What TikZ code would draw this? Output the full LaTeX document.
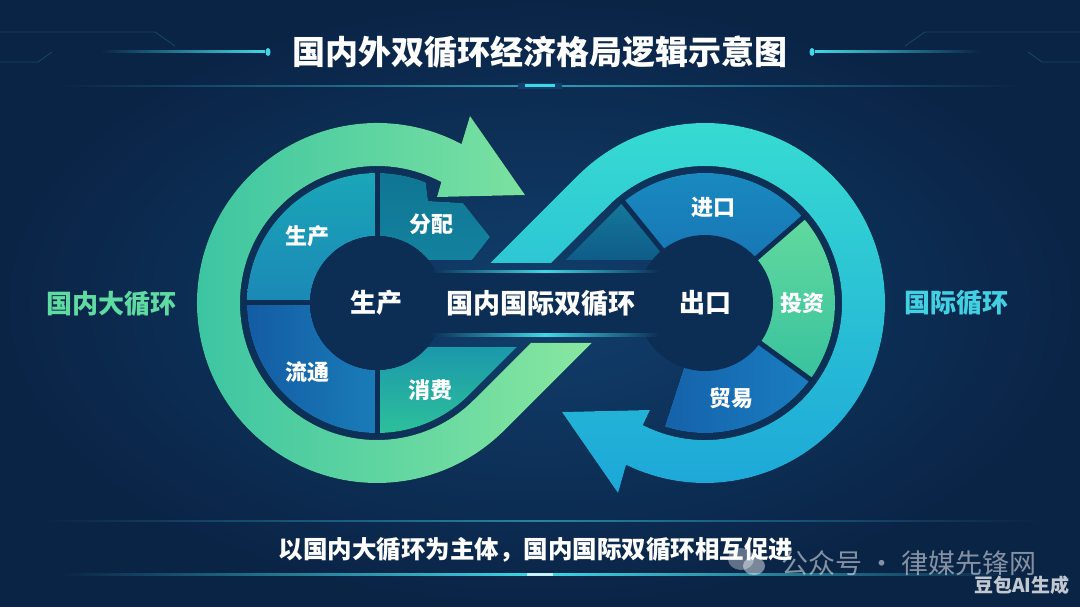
\documentclass[tikz,border=0pt]{standalone}
\usepackage{fontspec}
\setmainfont{Noto Sans CJK SC}
\usetikzlibrary{calc,positioning}
\definecolor{bgin}{HTML}{113F6D}
\definecolor{bgout}{HTML}{0A2446}
\definecolor{core}{HTML}{0C2D54}
\definecolor{glow}{HTML}{40D8E6}
\definecolor{gL}{HTML}{38C3A2}
\definecolor{gR}{HTML}{88E7A0}
\definecolor{cT}{HTML}{38DDD2}
\definecolor{cB}{HTML}{1CA6D8}
\definecolor{domestic}{HTML}{5FDBA2}
\definecolor{intl}{HTML}{42D0E3}
\definecolor{prodT}{HTML}{1AA6B8}
\definecolor{prodB}{HTML}{1B88B6}
\definecolor{circL}{HTML}{135CA4}
\definecolor{circR}{HTML}{1A7CB8}
\definecolor{consT}{HTML}{1B98AB}
\definecolor{consB}{HTML}{2DC09B}
\definecolor{distT}{HTML}{0F7694}
\definecolor{distB}{HTML}{13829E}
\definecolor{impT}{HTML}{1A8DC2}
\definecolor{impB}{HTML}{1776B4}
\definecolor{invT}{HTML}{62D99E}
\definecolor{invB}{HTML}{38C29E}
\definecolor{tradeL}{HTML}{1562AA}
\definecolor{tradeR}{HTML}{1A7DC0}
\definecolor{blankT}{HTML}{15789A}
\definecolor{blankB}{HTML}{0F5C88}

\begin{document}
\begin{tikzpicture}[x=1pt,y=1pt,
		gap/.style={core,line width=5pt},
		lab/.style={text=white,font=\bfseries\fontsize{22}{22}\selectfont},
		mid/.style={text=white,font=\bfseries\fontsize{26}{26}\selectfont},
		side/.style={font=\bfseries\fontsize{26}{26}\selectfont}]
		\useasboundingbox (0,0) rectangle (1080,606);
		\shade[inner color=bgin,outer color=bgout] (0,0) rectangle (1080,606);

		% title strip
		\shade[left color=bgout,right color=glow] (100,553) rectangle (265,555);
		\shade[left color=glow,right color=bgout] (815,553) rectangle (980,555);
		\fill[glow] (268,554) ellipse (2.5 and 4);
		\fill[glow] (812,554) ellipse (2.5 and 4);
		\draw[glow,opacity=.2,line width=.8pt] (0,544) -- (38,544) -- (52,554);
		\draw[glow,opacity=.2,line width=.8pt] (0,574) -- (155,574) -- (175,560);
		\draw[glow,opacity=.2,line width=.8pt] (1080,544) -- (1042,544) -- (1028,554);
		\draw[glow,opacity=.2,line width=.8pt] (1080,574) -- (925,574) -- (905,560);
		\shade[left color=bgout,right color=bgout,middle color=glow!60!bgin] (60,519.3) rectangle (1020,520.7);
		\fill[bgin] (518,517) rectangle (562,523);
		\fill[glow] (525,518.5) rectangle (555,521.5);
		\node[text=white,font=\bfseries\fontsize{33}{33}\selectfont] (title) at (540,554) {国内外双循环经济格局逻辑示意图};

		\coordinate (L) at (377,303);
		\coordinate (R) at (705,303);

		% outer arrows
		\fill[left color=gL,right color=gR] (525,411) -- (470,490) -- ($(L)+(62:180)$)
			arc[start angle=62,end angle=315,radius=180] -- (591.6,263) -- (530.8,263)
			-- ($(L)+(315:137)$) arc[start angle=315,end angle=62,radius=137] -- (437,409) -- cycle;
		\fill[top color=cT,bottom color=cB] (562,194) -- (650,196) -- ($(R)+(-117:137)$)
			arc[start angle=-117,end angle=135,radius=137] -- (551.2,343) -- (490.4,343)
			-- ($(R)+(135:180)$) arc[start angle=135,end angle=-116,radius=180] -- (618,113) -- cycle;

		% left ring
		\fill[top color=prodT,bottom color=prodB] ($(L)+(90:130)$) arc[start angle=90,end angle=180,radius=130]
			-- ($(L)+(180:67)$) arc[start angle=180,end angle=90,radius=67] -- cycle;
		\fill[left color=circL,right color=circR] ($(L)+(180:130)$) arc[start angle=180,end angle=270,radius=130]
			-- ($(L)+(270:67)$) arc[start angle=270,end angle=180,radius=67] -- cycle;
		\fill[top color=consT,bottom color=consB] ($(L)+(270:130)$) arc[start angle=270,end angle=315,radius=130]
			-- (517,259) -- ($(L)+(-41:67)$) arc[start angle=-41,end angle=-90,radius=67] -- cycle;
		\fill[top color=distT,bottom color=distB] ($(L)+(90:130)$) arc[start angle=90,end angle=68,radius=130]
			-- (428,405) -- (463,403) -- (490,369) -- (472,346)
			-- ($(L)+(40:67)$) arc[start angle=40,end angle=90,radius=67] -- cycle;
		\draw[gap] ($(L)+(90:133)$) -- ($(L)+(270:133)$);
		\draw[gap] ($(L)+(180:133)$) -- (L);

		% right ring
		\fill[top color=impT,bottom color=impB] ($(R)+(41:130)$) arc[start angle=41,end angle=129,radius=130]
			-- ($(R)+(129:67)$) arc[start angle=129,end angle=41,radius=67] -- cycle;
		\fill[top color=invT,bottom color=invB] ($(R)+(-36:130)$) arc[start angle=-36,end angle=41,radius=130]
			-- ($(R)+(41:67)$) arc[start angle=41,end angle=-36,radius=67] -- cycle;
		\fill[left color=tradeL,right color=tradeR] ($(R)+(-108:130)$) arc[start angle=-108,end angle=-36,radius=130]
			-- ($(R)+(-36:67)$) arc[start angle=-36,end angle=-108,radius=67] -- cycle;
		\fill[top color=blankT,bottom color=blankB] (623,404) -- (565,346)
			-- ($(R)+(140:67)$) arc[start angle=140,end angle=129,radius=67] -- cycle;
		\draw[gap] (R) -- ($(R)+(129:133)$);
		\draw[gap] (R) -- ($(R)+(41:133)$);
		\draw[gap] (R) -- ($(R)+(-36:133)$);

		% core
		\fill[core] (L) circle (67);
		\fill[core] (R) circle (68);
		\fill[core] (430,271) rectangle (660,334);
		\shade[left color=core,right color=core,middle color=glow] (430,333) rectangle (660,335.5);
		\shade[left color=core,right color=core,middle color=glow] (430,269.5) rectangle (660,272);

		\node[lab] (prod) at (307,370) {生产};
		\node[lab] (dist) at (431,382) {分配};
		\node[lab] (circ) at (307,234) {流通};
		\node[lab] (cons) at (430,216) {消费};
		\node[lab] (imp) at (713,399) {进口};
		\node[lab] (inv) at (802,303) {投资};
		\node[lab] (trade) at (731,208) {贸易};
		\node[mid] (lcore) at (376,303) {生产};
		\node[mid] (rcore) at (705,303) {出口};
		\node[mid,font=\bfseries\fontsize{27}{27}\selectfont] (dual) at (541,303) {国内国际双循环};
		\node[side,text=domestic] (dlabel) at (111,302) {国内大循环};
		\node[side,text=intl] (ilabel) at (956,303) {国际循环};

		% bottom strip
		\shade[left color=bgout,right color=bgout,middle color=glow!45!bgin] (40,84.5) rectangle (1040,85.5);
		\shade[left color=bgout,right color=bgout,middle color=glow] (60,31) rectangle (1020,33);
		\fill[white!70!glow] (527,30.5) rectangle (553,33.5);
		\node[text=white,font=\bfseries\fontsize{24.5}{24.5}\selectfont] (motto) at (536,56) {以国内大循环为主体，国内国际双循环相互促进};

		% watermark
		\fill[white,opacity=.35] (741,47) ellipse (13 and 11);
		\fill[white,opacity=.45] (754,40) ellipse (11 and 9);
		\node[text=white,opacity=.5,font=\fontsize{27}{27}\selectfont] (wm) at (909,43) {公众号 · 律媒先锋网};
		\node[text=white,opacity=.75,font=\bfseries\fontsize{19}{19}\selectfont] (ai) at (1022,21) {豆包AI生成};
	\end{tikzpicture}
\end{document}
